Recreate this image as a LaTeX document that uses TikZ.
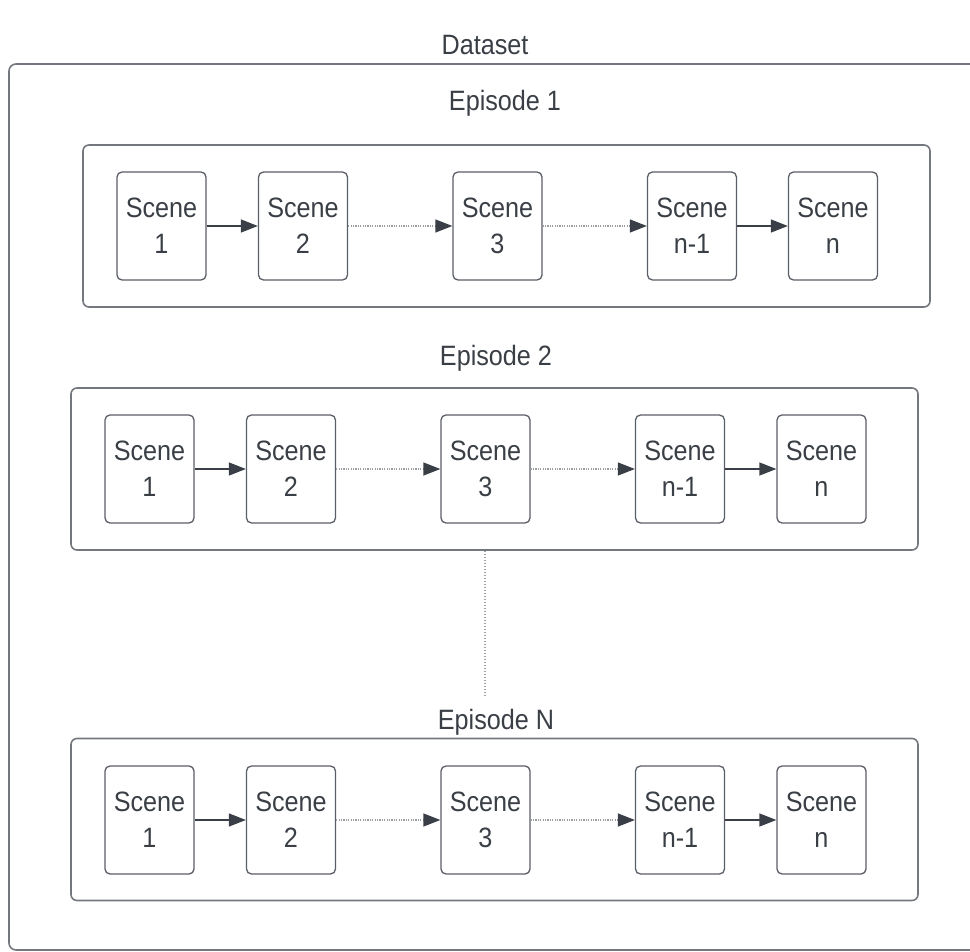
\documentclass[tikz,border=0pt]{standalone}
\usepackage{fontspec}
\setmainfont[FakeStretch=0.9]{Liberation Sans}
\usetikzlibrary{arrows.meta}
\definecolor{txt}{HTML}{3A3F46}
\definecolor{frame}{HTML}{74787E}
\definecolor{sbox}{HTML}{5A5E66}
\definecolor{arr}{HTML}{3A3F47}
\definecolor{dotc}{HTML}{9A9DA2}
\tikzset{
  scenebox/.style={draw=sbox, line width=1.3pt, rounded corners=5pt, minimum width=89pt, minimum height=108pt, align=center, text=txt, font=\fontsize{28}{36}\selectfont, inner sep=0pt},
  epbox/.style={draw=frame, line width=1.6pt, rounded corners=6pt, minimum width=847pt, minimum height=162pt, inner sep=0pt},
  title/.style={text=txt, font=\fontsize{28}{34}\selectfont, inner sep=0pt},
  solidarr/.style={draw=arr, line width=1.4pt, -{Triangle[length=17pt,width=13pt]}},
  dotarr/.style={draw=dotc, line width=1.3pt, dash pattern=on 1.2pt off 1.2pt, -{Triangle[length=17pt,width=13pt,color=arr,fill=arr]}}
}
\begin{document}
\begin{tikzpicture}[x=1pt,y=-1pt]
\useasboundingbox (0,0) rectangle (970,952);
\clip (0,0) rectangle (970,952);
\draw[draw=frame, line width=1.6pt, rounded corners=7pt] (9,64) rectangle (1000,950);
\node[title] (dataset) at (485,45) {Dataset};

% Episode boxes
\node[epbox] (ep1) at (506.5,226) {};
\node[epbox] (ep2) at (494.5,469) {};
\node[epbox] (epN) at (494.5,819.5) {};
\node[title] (t1) at (505,103) {Episode 1};
\node[title] (t2) at (496,358) {Episode 2};
\node[title] (tN) at (496,722) {Episode N};

% Episode 1 scenes
\node[scenebox] (a1) at (161.5,226) {Scene\\1};
\node[scenebox] (a2) at (303,226) {Scene\\2};
\node[scenebox] (a3) at (497.5,226) {Scene\\3};
\node[scenebox] (a4) at (692,226) {Scene\\n-1};
\node[scenebox] (a5) at (833,226) {Scene\\n};
% Episode 2 scenes
\node[scenebox] (b1) at (149.5,469) {Scene\\1};
\node[scenebox] (b2) at (291,469) {Scene\\2};
\node[scenebox] (b3) at (485.5,469) {Scene\\3};
\node[scenebox] (b4) at (680,469) {Scene\\n-1};
\node[scenebox] (b5) at (821.5,469) {Scene\\n};
% Episode N scenes
\node[scenebox] (c1) at (149.5,820) {Scene\\1};
\node[scenebox] (c2) at (291,820) {Scene\\2};
\node[scenebox] (c3) at (485.5,820) {Scene\\3};
\node[scenebox] (c4) at (680,820) {Scene\\n-1};
\node[scenebox] (c5) at (821.5,820) {Scene\\n};

\foreach \r in {a,b,c}{
  \draw[solidarr] (\r1) -- (\r2);
  \draw[dotarr] (\r2) -- (\r3);
  \draw[dotarr] (\r3) -- (\r4);
  \draw[solidarr] (\r4) -- (\r5);
}

\coordinate (dotend) at (485,697);
\draw[draw=dotc, line width=1.3pt, dash pattern=on 1.2pt off 1.8pt] (dotend |- ep2.south) -- (dotend);
\end{tikzpicture}
\end{document}
